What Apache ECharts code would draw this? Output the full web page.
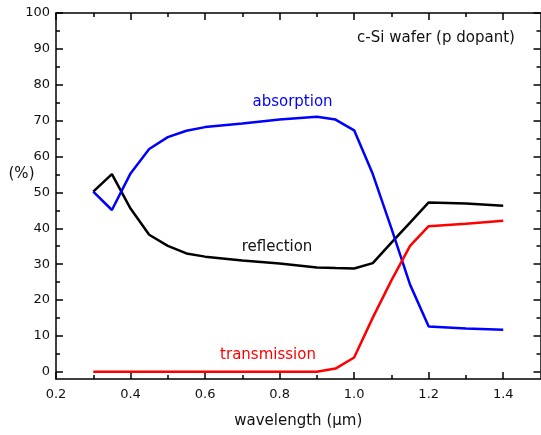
<!DOCTYPE html>
<html>
<head>
<meta charset="utf-8">
<script src="https://cdn.jsdelivr.net/npm/echarts@6/dist/echarts.min.js"></script>
<style>html,body{margin:0;padding:0;background:#fff}#c{width:541px;height:435px}</style>
</head>
<body>
<div id="c"></div>
<script>
const wavelength = [0.3,0.35,0.4,0.45,0.5,0.55,0.6,0.7,0.8,0.9,0.95,1.0,1.05,1.1,1.15,1.2,1.3,1.4];
const absorption = [50.2,45.1,55.3,62.1,65.4,67.2,68.2,69.2,70.3,71.1,70.3,67.3,55.1,40,24.3,12.6,12.1,11.7];
const reflection = [50.2,55.1,45.5,38.2,35.1,33.0,32.1,31.0,30.2,29.1,28.9,28.8,30.3,36,41.6,47.2,46.9,46.3];
const transmission = [0,0,0,0,0,0,0,0,0,0,0.9,4,15.1,25.5,35.1,40.6,41.3,42.1];
const xMajorTicks = [0.2,0.4,0.6,0.8,1.0,1.2,1.4];
const xMinorTicks = [0.3,0.5,0.7,0.9,1.1,1.3];
const yMajorTicks = [0,10,20,30,40,50,60,70,80,90,100];
const yMinorTicks = [5,15,25,35,45,55,65,75,85,95];

const FONT = 'DejaVu Sans';
const pairs = arr => wavelength.map((w,i)=>[w,arr[i]]);
const chart = echarts.init(document.getElementById('c'));
const lineStyle = {color:'#000', width:1.5};
function xAx(pos, ticks, len, showLine, showLabel){
  return {type:'value', position:pos, min:0.2, max:1.5,
    axisLine:{show:showLine, onZero:false, lineStyle},
    axisTick:{show:true, inside:true, length:len, customValues:ticks, lineStyle},
    axisLabel:{show:showLabel, customValues:ticks, margin:9, color:'#111', fontFamily:FONT, fontSize:13,
      formatter:v=>v.toFixed(1)},
    splitLine:{show:false}};
}
function yAx(pos, ticks, len, showLine, showLabel){
  return {type:'value', position:pos, min:-2, max:100,
    axisLine:{show:showLine, onZero:false, lineStyle},
    axisTick:{show:true, inside:true, length:len, customValues:ticks, lineStyle},
    axisLabel:{show:showLabel, customValues:ticks, margin:6, color:'#111', fontFamily:FONT, fontSize:13},
    splitLine:{show:false}};
}
const xa0 = xAx('bottom', xMajorTicks, 7, true, true);
xa0.name = 'wavelength (\u03bcm)';
xa0.nameLocation = 'middle';
xa0.nameGap = 35;
xa0.nameTextStyle = {color:'#111', fontFamily:FONT, fontSize:15};
chart.setOption({
  animation:false,
  backgroundColor:'#fff',
  grid:{left:56, right:0.5, top:13, bottom:56, containLabel:false, outerBoundsMode:'none'},
  xAxis:[xa0, xAx('bottom', xMinorTicks, 4, false, false), xAx('top', xMajorTicks, 7, true, false), xAx('top', xMinorTicks, 4, false, false)],
  yAxis:[yAx('left', yMajorTicks, 7, true, true), yAx('left', yMinorTicks, 4, false, false), yAx('right', yMajorTicks, 7, true, false), yAx('right', yMinorTicks, 4, false, false)],
  series:[
    {type:'line', data:pairs(absorption), symbol:'none', lineStyle:{color:'#0000ff', width:2.5}, z:3},
    {type:'line', data:pairs(reflection), symbol:'none', lineStyle:{color:'#000000', width:2.5}, z:2},
    {type:'line', data:pairs(transmission), symbol:'none', lineStyle:{color:'#ff0000', width:2.5}, z:4}
  ],
  graphic:[
    {type:'text', style:{x:292.5, y:102.5, text:'absorption', fill:'#0000ff', font:'15px "DejaVu Sans"', textAlign:'center', textVerticalAlign:'middle'}},
    {type:'text', style:{x:277, y:247.5, text:'reflection', fill:'#111', font:'15px "DejaVu Sans"', textAlign:'center', textVerticalAlign:'middle'}},
    {type:'text', style:{x:268, y:355.5, text:'transmission', fill:'#ff0000', font:'15px "DejaVu Sans"', textAlign:'center', textVerticalAlign:'middle'}},
    {type:'text', style:{x:436, y:38.5, text:'c-Si wafer (p dopant)', fill:'#111', font:'15px "DejaVu Sans"', textAlign:'center', textVerticalAlign:'middle'}},
    {type:'text', style:{x:21.5, y:174, text:'(%)', fill:'#111', font:'15px "DejaVu Sans"', textAlign:'center', textVerticalAlign:'middle'}}
  ]
});
</script>
</body>
</html>
